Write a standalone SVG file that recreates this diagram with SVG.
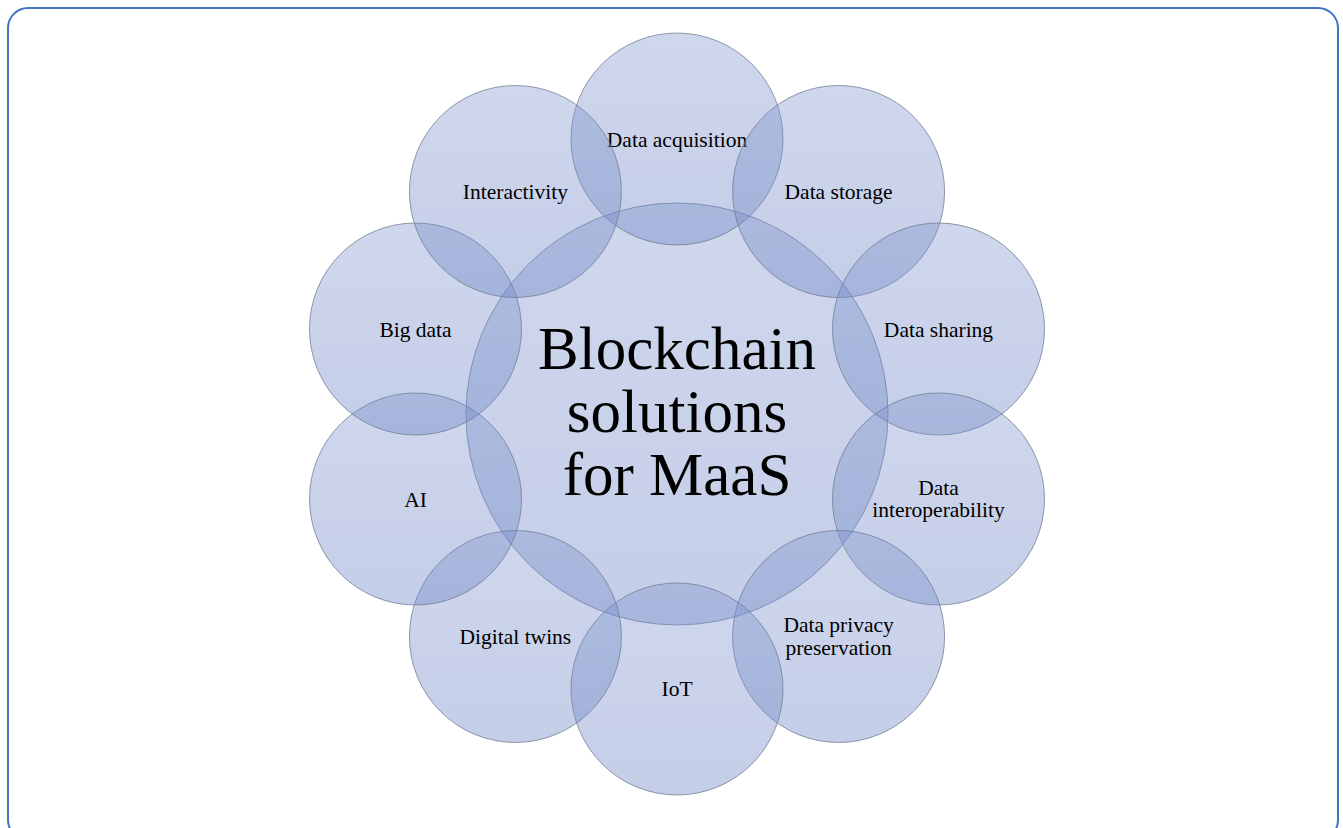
<svg xmlns="http://www.w3.org/2000/svg" width="1343" height="828" viewBox="0 0 1343 828">
<defs>
<linearGradient id="g" x1="0" y1="0" x2="0" y2="1">
<stop offset="0" stop-color="#7a90cc" stop-opacity="0.36"/>
<stop offset="1" stop-color="#6c84c4" stop-opacity="0.40"/>
</linearGradient>
<style>
.c{fill:url(#g);stroke:#6f7a90;stroke-opacity:0.75;stroke-width:1}
.t{font-family:"Liberation Serif","Times New Roman",serif;font-size:21.5px;fill:#000;text-anchor:middle}
.big{font-family:"Liberation Serif","Times New Roman",serif;font-size:61px;fill:#000;text-anchor:middle}
</style>
</defs>
<rect x="8" y="8" width="1330" height="832" rx="20" ry="20" fill="#ffffff" stroke="#4472c4" stroke-width="2"/>
<g id="center"><circle class="c" cx="677" cy="414" r="211"/></g>
<g id="n-acquisition"><circle class="c" cx="677" cy="139" r="106"/><text class="t" x="677" y="146.5">Data acquisition</text></g>
<g id="n-storage"><circle class="c" cx="838.6" cy="191.5" r="106"/><text class="t" x="838.6" y="199">Data storage</text></g>
<g id="n-sharing"><circle class="c" cx="938.5" cy="329" r="106"/><text class="t" x="938.5" y="336.5">Data sharing</text></g>
<g id="n-interop"><circle class="c" cx="938.5" cy="499" r="106"/><text class="t" x="938.5" y="495">Data</text><text class="t" x="938.5" y="517">interoperability</text></g>
<g id="n-privacy"><circle class="c" cx="838.6" cy="636.5" r="106"/><text class="t" x="838.6" y="632">Data privacy</text><text class="t" x="838.6" y="654.5">preservation</text></g>
<g id="n-iot"><circle class="c" cx="677" cy="689" r="106"/><text class="t" x="677" y="696">IoT</text></g>
<g id="n-twins"><circle class="c" cx="515.4" cy="636.5" r="106"/><text class="t" x="515.4" y="644">Digital twins</text></g>
<g id="n-ai"><circle class="c" cx="415.5" cy="499" r="106"/><text class="t" x="415.5" y="506.5">AI</text></g>
<g id="n-bigdata"><circle class="c" cx="415.5" cy="329" r="106"/><text class="t" x="415.5" y="336.5">Big data</text></g>
<g id="n-interactivity"><circle class="c" cx="515.4" cy="191.5" r="106"/><text class="t" x="515.4" y="199">Interactivity</text></g>
<g id="center-label"><text class="big" x="677" y="368.5">Blockchain</text><text class="big" x="677" y="431.8">solutions</text><text class="big" x="677" y="495">for MaaS</text></g>
<g id="connectors"/>
</svg>
